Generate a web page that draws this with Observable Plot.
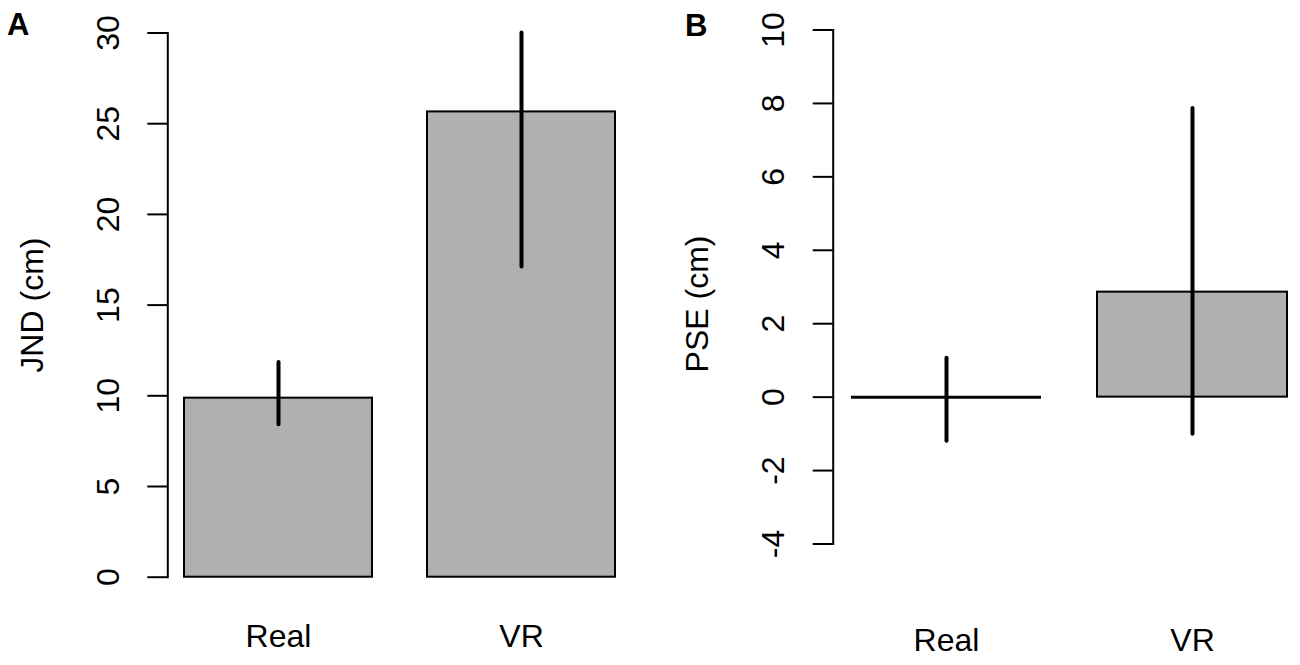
<!DOCTYPE html>
<html>
<head>
<meta charset="utf-8">
<script src="https://cdn.jsdelivr.net/npm/d3@7"></script>
<script src="https://cdn.jsdelivr.net/npm/@observablehq/plot@0.6"></script>
<style>
  html, body { margin: 0; padding: 0; background: #fff; }
  #wrap { position: relative; width: 1300px; height: 665px; overflow: hidden; font-family: "Liberation Sans", Arial, Helvetica, sans-serif; }
  .panel { position: absolute; top: 0; }
  .letter { position: absolute; font-weight: bold; font-size: 31px; line-height: 1; color: #000; }
</style>
</head>
<body>
<div id="wrap">
  <div class="panel" id="pa" style="left:0px"></div>
  <div class="panel" id="pb" style="left:650px"></div>
  <div class="letter" style="left:7px; top:9px;">A</div>
  <div class="letter" style="left:685px; top:10px;">B</div>
</div>
<script>
// ---- data ----
const categories = ["Real", "VR"];

const jndValues = [9.87, 25.65];
const jndLower  = [8.41, 17.1];
const jndUpper  = [11.84, 30.0];
const jndTicks  = [0, 5, 10, 15, 20, 25, 30];
const jndLabel  = "JND (cm)";

const pseValues = [0, 2.86];
const pseLower  = [-1.20, -1.01];
const pseUpper  = [1.06, 7.86];
const pseTicks  = [-4, -2, 0, 2, 4, 6, 8, 10];
const pseLabel  = "PSE (cm)";

const barFill = "#b0b0b0";
const font = "'Liberation Sans', Arial, Helvetica, sans-serif";

function rows(vals, lo, hi) {
  return categories.map((c, i) => ({cat: c, value: vals[i], lo: lo[i], hi: hi[i]}));
}
const dataA = rows(jndValues, jndLower, jndUpper);
const dataB = rows(pseValues, pseLower, pseUpper);

function panel(data, ticks, label, cfg) {
  return Plot.plot({
    width: 650,
    height: 665,
    marginLeft: cfg.marginLeft,
    marginRight: 0,
    marginTop: cfg.marginTop,
    marginBottom: cfg.marginBottom,
    style: {fontFamily: font, background: "white", color: "black", overflow: "visible"},
    x: {domain: categories, range: cfg.xRange, paddingInner: cfg.padding, paddingOuter: 0, axis: null},
    y: {domain: [ticks[0], ticks[ticks.length - 1]], axis: null},
    marks: [
      Plot.barY(data, {x: "cat", y: "value", fill: barFill, stroke: "black", strokeWidth: 2}),
      Plot.tickY(data.filter(d => d.value === 0), {x: "cat", y: "value", stroke: "black", strokeWidth: 3}),
      Plot.ruleX(data, {x: "cat", y1: "lo", y2: "hi", stroke: "black", strokeWidth: 4, strokeLinecap: "round"}),
      Plot.frame({anchor: "left", stroke: "black", strokeWidth: 2}),
      Plot.axisY({ticks: ticks, tickSize: 20, tickFormat: () => "", label: null, stroke: "black", strokeWidth: 2}),
      Plot.text(ticks, {y: d => d, text: d => String(d), frameAnchor: "left", dx: -59, rotate: -90,
                        fontSize: 32, textAnchor: "middle", lineAnchor: "middle", fill: "black"}),
      Plot.text([label], {text: d => d, frameAnchor: "left", dx: cfg.labelDx, dy: cfg.labelDy, rotate: -90,
                          fontSize: 32, textAnchor: "middle", lineAnchor: "middle", fill: "black"}),
      Plot.text(categories, {x: d => d, text: d => d, frameAnchor: "bottom", dy: cfg.catDy,
                             fontSize: 32, textAnchor: "middle", lineAnchor: "middle", fill: "black"})
    ]
  });
}

document.getElementById("pa").appendChild(panel(dataA, jndTicks, jndLabel, {
  marginLeft: 167.3, marginTop: 32.5, marginBottom: 88.3,
  xRange: [183.5, 615.7], padding: 0.227,
  labelDx: -135, labelDy: 0, catDy: 60
}));

document.getElementById("pb").appendChild(panel(dataB, pseTicks, pseLabel, {
  marginLeft: 182.7, marginTop: 29.5, marginBottom: 121.5,
  xRange: [200, 637.3], padding: 0.228,
  labelDx: -135, labelDy: 17, catDy: 97
}));
</script>
</body>
</html>
